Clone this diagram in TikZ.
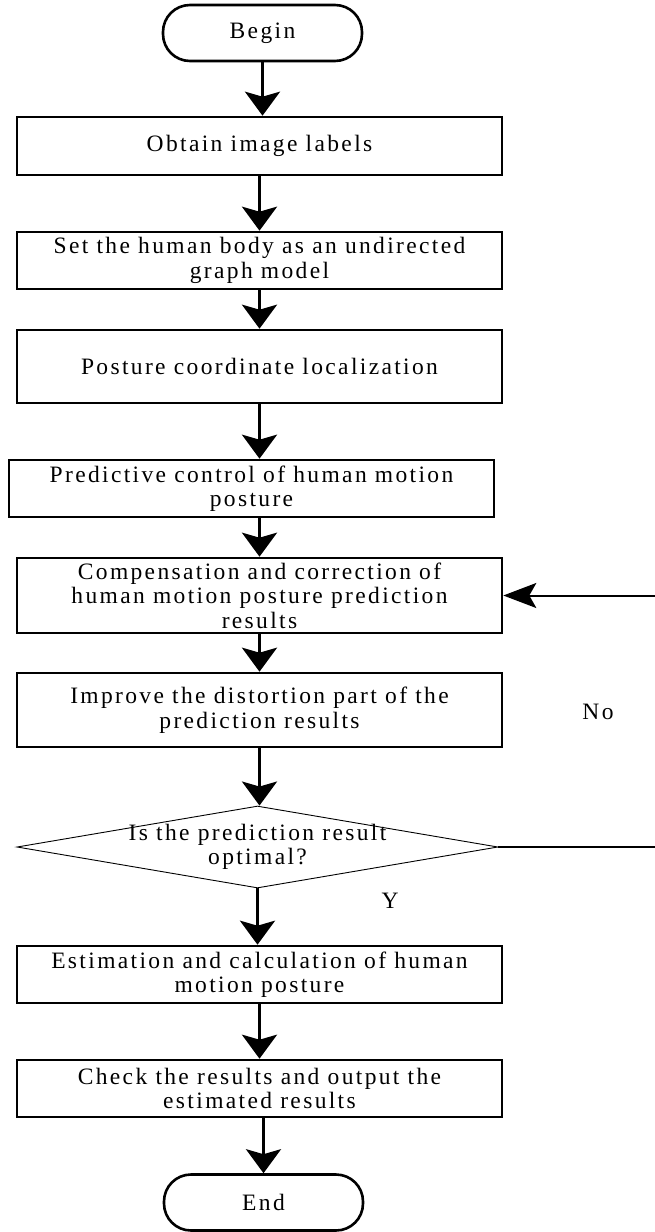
\documentclass[tikz,border=0pt]{standalone}
\usepackage{fontspec}
\setmainfont{Liberation Serif}[LetterSpace=10]
\usetikzlibrary{shapes.geometric,arrows.meta}

\begin{document}
\begin{tikzpicture}[x=1pt, y=-1pt,
  font=\fontsize{23.5}{24.5}\selectfont,
  proc/.style={draw, line width=2.6pt, minimum width=485pt, inner sep=0pt, align=center},
  term/.style={draw, line width=2.6pt, rounded corners=27pt, minimum width=199pt, minimum height=56pt},
  decision/.style={diamond, draw, line width=0.9pt, aspect=5.87, minimum width=481pt, minimum height=82pt, inner sep=-8pt, align=center},
  flow/.style={line width=3pt, -{Stealth[length=24pt, width=35pt, inset=5pt]}},
  back/.style={line width=2pt, -{Stealth[length=33pt, width=25pt, inset=7pt]}}]

\useasboundingbox (0,0) rectangle (654,1232);

% ── Steps ──
\node[term] (begin) at (262.5, 33) {Begin};
\node[proc, minimum height=58pt] (labels) at (259.5, 146) {Obtain image labels};
\node[proc, minimum height=57pt] (graph) at (259.5, 260.5) {Set the human body as an undirected\\graph model};
\node[proc, minimum height=73pt] (locate) at (259.5, 366.5) {Posture coordinate localization};
\node[proc, minimum height=57pt] (predict) at (251.5, 488.5) {Predictive control of human motion\\posture};
\node[proc, minimum height=75pt] (comp) at (259.5, 595.5) {Compensation and correction of\\human motion posture prediction\\results};
\node[proc, minimum height=74pt] (improve) at (259.5, 710) {Improve the distortion part of the\\prediction results};
\node[decision] (optimal) at (257.5, 847) {Is the prediction result\\optimal?};
\node[proc, minimum height=57pt] (estimate) at (259.5, 974.5) {Estimation and calculation of human\\motion posture};
\node[proc, minimum height=57pt] (output) at (259.5, 1088.5) {Check the results and output the\\estimated results};
\node[term] (end) at (263.5, 1202.5) {End};

% ── Branch labels ──
\node (no) at (598, 712) {No};
\node (yes) at (390, 901) {Y};

% ── Flow ──
\foreach \a/\b in {begin/labels, labels/graph, graph/locate, locate/predict, comp/improve, improve/optimal, optimal/estimate, estimate/output}
  \draw[flow] (\a.south) -- (\a.south |- \b.north);
\draw[flow] (comp.north |- predict.south) -- (comp.north);
\draw[flow] (end.north |- output.south) -- (end.north);

% ── Loop back when not optimal ──
\draw[back] (optimal.east) -- ++(160,0) |- (comp.east);

\end{tikzpicture}
\end{document}
